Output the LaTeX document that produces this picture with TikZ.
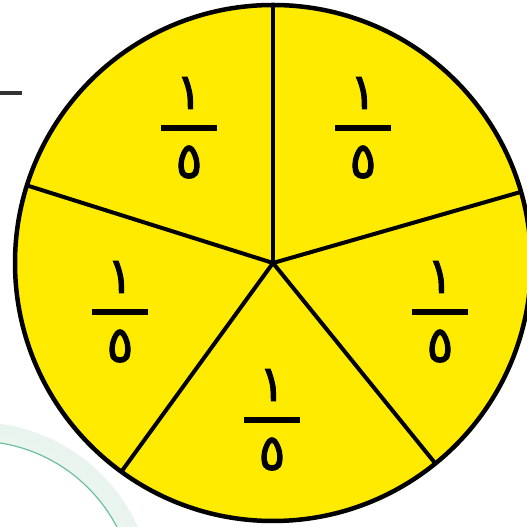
\documentclass[tikz,border=0pt]{standalone}
\usepackage{fontspec}
\newfontfamily\arabicfont[Script=Arabic,FakeBold=2]{DejaVu Sans}
\TeXXeTstate=1
\usetikzlibrary{calc}
\definecolor{pieyellow}{RGB}{255,235,0}
\definecolor{arcgreen}{RGB}{110,190,160}
\definecolor{glowgreen}{RGB}{225,240,232}
\tikzset{
  piecircle/.style={draw=black, line width=4.5pt, fill=pieyellow},
  spoke/.style={draw=black, line width=4pt},
  digit/.style={inner sep=0pt, font=\arabicfont\fontsize{50}{50}\selectfont},
  fracbar/.style={draw=black, line width=6pt},
}
\newcommand{\fivefrac}[2]{%
  \coordinate (#1) at #2;
  \node[digit] (#1-num) at ($(#1)+(0,35)$) {\beginR ١\endR};
  \draw[fracbar] ($(#1)+(-28,0)$) -- ($(#1)+(28,0)$);
  \node[digit] (#1-den) at ($(#1)+(0,-34)$) {\beginR ٥\endR};
}
\begin{document}
\begin{tikzpicture}[x=1pt,y=1pt]
\useasboundingbox (0,0) rectangle (527,527);
\clip (0,0) rectangle (527,527);
% faint neighbouring circle, bottom left
\coordinate (g) at (-25,-74);
\draw[glowgreen, line width=18pt, opacity=0.7] (g) circle (170);
\draw[glowgreen!70, line width=8pt] (g) circle (164);
\draw[arcgreen, line width=1.2pt] (g) circle (160);
% short line, top left
\coordinate (t1) at (0,434);
\coordinate (t2) at (22,434);
\draw[black!80, line width=4pt] (t1) -- (t2);
% the pie
\coordinate (c) at (273,264);
\draw[piecircle] (c) circle (258);
\foreach \a in {90,16,-51,-126,162.5}{
  \draw[spoke] (c) -- ($(c)+(\a:258pt)$);
}
\fivefrac{f1}{(189,399)}
\fivefrac{f2}{(363,399)}
\fivefrac{f3}{(120,215)}
\fivefrac{f4}{(440,215)}
\fivefrac{f5}{(272,107)}
\end{tikzpicture}
\end{document}
